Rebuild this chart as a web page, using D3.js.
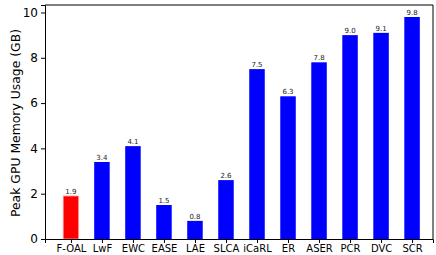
<!DOCTYPE html>
<html>
<head>
<meta charset="utf-8">
<script src="https://cdn.jsdelivr.net/npm/d3@7"></script>
<style>
  body { margin: 0; background: #fff; }
  text { font-family: "DejaVu Sans", sans-serif; fill: #000; }
</style>
</head>
<body>
<div id="chart"></div>
<script>
// data
var methods = ["F-OAL", "LwF", "EWC", "EASE", "LAE", "SLCA", "iCaRL", "ER", "ASER", "PCR", "DVC", "SCR"];
var memoryGB = [1.9, 3.4, 4.1, 1.5, 0.8, 2.6, 7.5, 6.3, 7.8, 9.0, 9.1, 9.8];
var barColors = ["#ff0000", "#0000ff", "#0000ff", "#0000ff", "#0000ff", "#0000ff", "#0000ff", "#0000ff", "#0000ff", "#0000ff", "#0000ff", "#0000ff"];
var yTicks = [0, 2, 4, 6, 8, 10];

var width = 436, height = 255;
var margin = { top: 5, right: 3, bottom: 16, left: 45 };

var svg = d3.select("#chart")
    .append("svg")
    .attr("width", width)
    .attr("height", height);

// x as a linear scale over the category index so the side margins match
var x = d3.scaleLinear()
    .domain([-0.836, 11.675])
    .range([margin.left, width - margin.right]);
var step = x(1) - x(0);
var barW = step * 0.5;

var y = d3.scaleLinear()
    .domain([0, 10.33])
    .range([height - margin.bottom, margin.top]);

// bars
svg.selectAll("rect.bar")
    .data(memoryGB)
    .enter()
    .append("rect")
    .attr("class", "bar")
    .attr("x", function (d, i) { return x(i) - barW / 2; })
    .attr("width", barW)
    .attr("y", function (d) { return y(d); })
    .attr("height", function (d) { return y(0) - y(d); })
    .attr("fill", function (d, i) { return barColors[i]; })
    .attr("stroke", function (d, i) { return i === 0 ? "#ffaaaa" : "none"; })
    .attr("stroke-width", 0.8);

// value labels
svg.selectAll("text.val")
    .data(memoryGB)
    .enter()
    .append("text")
    .attr("class", "val")
    .attr("x", function (d, i) { return x(i); })
    .attr("y", function (d) { return y(d) - 2; })
    .attr("text-anchor", "middle")
    .style("font-size", "7px")
    .style("fill", "#222")
    .text(function (d) { return d.toFixed(1); });

// y axis
var yAxis = svg.append("g")
    .attr("transform", "translate(" + margin.left + ",0)")
    .call(d3.axisLeft(y).tickValues(yTicks).tickSize(4).tickPadding(3).tickFormat(d3.format("d")));
yAxis.selectAll("text").style("font-size", "12px");

// x axis
var xAxis = svg.append("g")
    .attr("transform", "translate(0," + y(0) + ")")
    .call(d3.axisBottom(x).tickValues(d3.range(methods.length)).tickSize(4).tickPadding(2)
        .tickFormat(function (i) { return methods[i]; }));
xAxis.selectAll("text").style("font-size", "10px");

svg.selectAll(".domain").attr("stroke", "#000").attr("stroke-width", 1);
svg.selectAll(".tick line").attr("stroke", "#000");

// top and right spines
svg.append("line")
    .attr("x1", x.range()[0]).attr("x2", x.range()[1])
    .attr("y1", y.range()[1]).attr("y2", y.range()[1])
    .attr("stroke", "#000");
svg.append("line")
    .attr("x1", x.range()[1]).attr("x2", x.range()[1])
    .attr("y1", y.range()[0]).attr("y2", y.range()[1])
    .attr("stroke", "#000");

// y label
svg.append("text")
    .attr("transform", "translate(19.5," + ((y.range()[0] + y.range()[1]) / 2 + 1) + ")rotate(-90)")
    .attr("text-anchor", "middle")
    .style("font-size", "12.4px")
    .text("Peak GPU Memory Usage (GB)");
</script>
</body>
</html>
